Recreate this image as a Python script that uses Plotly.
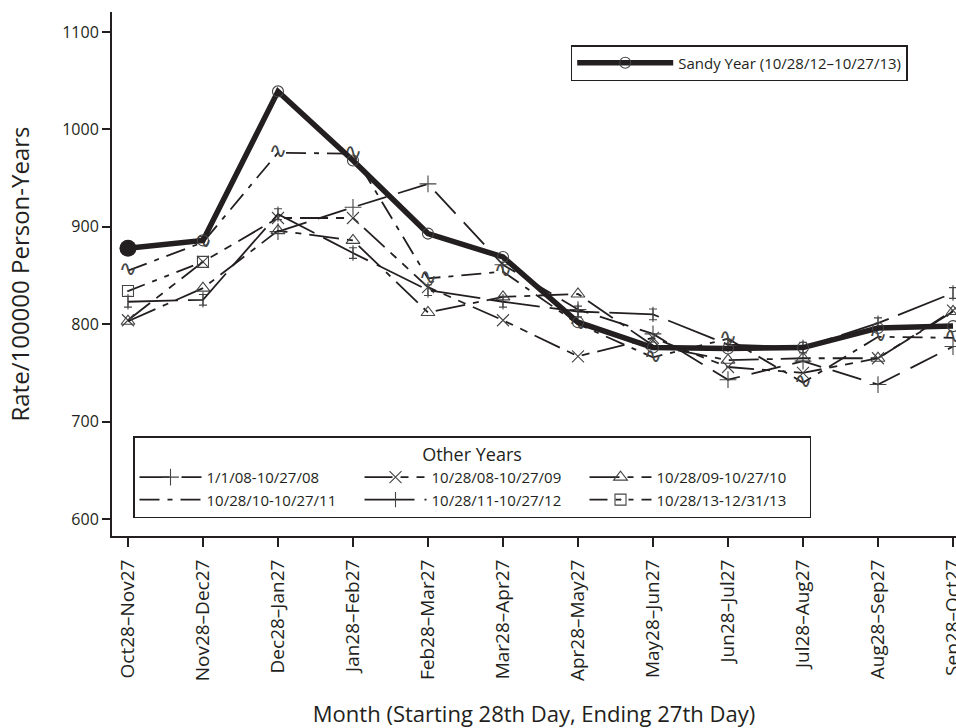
import plotly.graph_objects as go

categories = ["Oct28–Nov27", "Nov28–Dec27", "Dec28–Jan27", "Jan28–Feb27", "Feb28–Mar27",
              "Mar28–Apr27", "Apr28–May27", "May28–Jun27", "Jun28–Jul27", "Jul28–Aug27",
              "Aug28–Sep27", "Sep28–Oct27"]

sandy = [878, 886, 1039, 968, 893, 869, 802, 776, 775, 776, 796, 798]
y2008 = [None, None, 895, 920, 944, 861, 815, 790, 743, 762, 738, 777]
y2009 = [804, 864, 909, 909, 838, 804, 767, 786, 756, 750, 765, 814]
y2010 = [803, 837, 896, 886, 812, 828, 831, 778, 763, 765, 765, 813]
y2011 = [855, 884, 976, 975, 847, 854, 800, 766, 785, 740, 787, 786]
y2012 = [823, 825, 913, 873, 835, 823, 813, 810, 779, 776, 801, 832]
y2013 = [834, 864, None, None, None, None, None, None, None, None, None, None]

y_ticks = [600, 700, 800, 900, 1000, 1100]

names = ["1/1/08-10/27/08", "10/28/08-10/27/09", "10/28/09-10/27/10",
         "10/28/10-10/27/11", "10/28/11-10/27/12", "10/28/13-12/31/13"]
sandy_name = "Sandy Year (10/28/12–10/27/13)"

FONT = "Open Sans"
INK = "#231f20"
MK = "#444444"
xi = list(range(len(categories)))

fig = go.Figure()

def add_other(vals, name, dash, symbol=None, size=11, extra=None):
    d = dict(x=xi, y=vals, name=name, legend="legend2", mode="lines",
             line=dict(color=INK, width=1.8, dash=dash), connectgaps=False)
    if symbol:
        d["mode"] = "lines+markers"
        d["marker"] = dict(symbol=symbol, size=size, color=MK,
                           line=dict(color=MK, width=1.1))
    if extra:
        d.update(extra)
    fig.add_trace(go.Scatter(**d))

add_other(y2008, names[0], "30px,12px", "cross-thin-open", 12)
add_other(y2009, names[1], "28px,8px,8px,8px,8px,8px", "x-thin-open", 12)
add_other(y2010, names[2], "30px,8px,6px,8px", "triangle-up-open", 12)
add_other(y2011, names[3], "20px,8px,5px,8px")
add_other(y2012, names[4], "50px,10px", "line-ns-open", 11,
          dict(error_y=dict(type="constant", value=5.5, width=4, thickness=1.1, color=MK)))
add_other(y2013, names[5], "18px,8px,5px,8px,5px,8px", "square-open-dot", 11)

# squiggle glyphs for the 2010-11 series
fig.add_trace(go.Scatter(x=xi, y=y2011, mode="text", text=["∿"] * len(xi),
                         textfont=dict(family="DejaVu Sans", size=22, color=MK),
                         showlegend=False, hoverinfo="skip"))

fig.add_trace(go.Scatter(x=xi, y=sandy, name=sandy_name, legend="legend",
                         mode="lines+markers",
                         line=dict(color=INK, width=5.5),
                         marker=dict(symbol="circle-open", size=11, color=MK,
                                     line=dict(color=MK, width=1.1))))
fig.add_trace(go.Scatter(x=xi[:1], y=sandy[:1], mode="markers", showlegend=False,
                         marker=dict(symbol="circle", size=17, color=INK)))

fig.update_layout(
    width=956, height=728,
    margin=dict(l=112, r=0, t=12, b=192),
    paper_bgcolor="white", plot_bgcolor="white",
    font=dict(family=FONT, color=INK),
    showlegend=True,
    legend=dict(x=(570.7 - 112) / 844, y=(536 - 45) / 524, xanchor="left", yanchor="top",
                bordercolor=INK, borderwidth=1.5, bgcolor="white",
                font=dict(family=FONT, size=15, color=INK), itemwidth=96,
                tracegroupgap=0),
    legend2=dict(x=(133 - 112) / 844, y=(536 - 436) / 524, xanchor="left", yanchor="top",
                 orientation="h", bordercolor=INK, borderwidth=1.5, bgcolor="white",
                 font=dict(family=FONT, size=15, color=INK), itemwidth=62,
                 entrywidth=148, entrywidthmode="pixels",
                 title=dict(text="Other Years", side="top center",
                            font=dict(family=FONT, size=18, color=INK)),
                 traceorder="normal"),
    xaxis=dict(tickmode="array", tickvals=xi, ticktext=categories, tickangle=-90,
               range=[-0.213, 11.04], showgrid=False, zeroline=False, automargin=False,
               showline=True, linecolor=INK, linewidth=2,
               ticks="outside", ticklen=9, tickwidth=1.6, tickcolor=INK,
               ticklabeloverflow="allow", ticklabelstandoff=5,
               tickfont=dict(family=FONT, size=19, color=INK),
               title=dict(text="Month (Starting 28th Day, Ending 27th Day)",
                          font=dict(family=FONT, size=22, color=INK), standoff=30)),
    yaxis=dict(tickmode="array", tickvals=y_ticks, range=[582.5, 1120.5],
               showgrid=False, zeroline=False, automargin=False,
               showline=True, linecolor=INK, linewidth=2,
               ticks="outside", ticklen=8, tickwidth=1.6, tickcolor=INK,
               tickfont=dict(family=FONT, size=16, color=INK),
               title=dict(text="Rate/100000 Person-Years",
                          font=dict(family=FONT, size=24, color=INK), standoff=26)),
)

fig.write_html("out.html", config={"displayModeBar": False},
               post_script="document.body.style.margin='0';document.body.style.overflow='hidden';")
